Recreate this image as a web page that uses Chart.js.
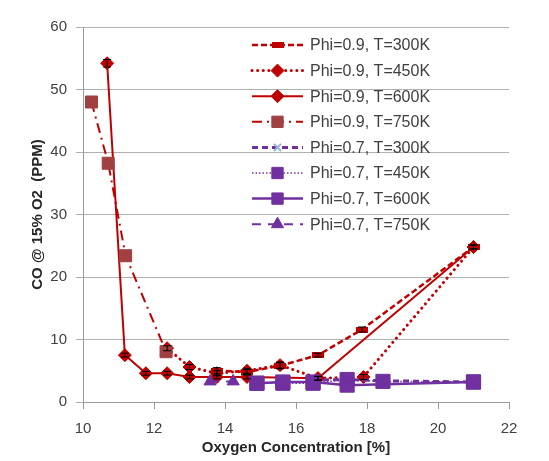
<!DOCTYPE html>
<html>
<head>
<meta charset="utf-8">
<script src="https://cdn.jsdelivr.net/npm/chart.js@4.4.1/dist/chart.umd.min.js"></script>
<style>
  html, body { margin: 0; padding: 0; background: #ffffff; }
  #wrap { width: 549px; height: 461px; position: relative; }
</style>
</head>
<body>
<div id="wrap"><canvas id="c" width="549" height="461"></canvas></div>
<script>
// ---------------- DATA ----------------
const seriesLabels = [
  "Phi=0.9, T=300K", "Phi=0.9, T=450K", "Phi=0.9, T=600K", "Phi=0.9, T=750K",
  "Phi=0.7, T=300K", "Phi=0.7, T=450K", "Phi=0.7, T=600K", "Phi=0.7, T=750K"
];

const phi09_T300_x = [13.77, 14.62, 15.55, 16.62, 17.86, 21.0];
const phi09_T300_y = [5.0, 4.8, 5.8, 7.5, 11.6, 24.8];
const phi09_T300_err = [0.5, 0.4, 0.5, 0.3, 0.4, 0.3];

const phi09_T450_x = [12.37, 13.0, 13.77, 14.62, 15.55, 16.62, 17.9, 21.0];
const phi09_T450_y = [8.6, 5.6, 4.6, 5.0, 5.9, 3.8, 4.0, 24.8];
const phi09_T450_err = [0.4, 0.4, 0.4, 0.4, 0.5, 0.3, 0.4, 0.3];

const phi09_T600_x = [10.68, 11.18, 11.77, 12.37, 13.0, 13.77, 14.62, 16.62, 21.0];
const phi09_T600_y = [54.2, 7.5, 4.6, 4.6, 4.0, 4.0, 4.0, 3.8, 24.8];
const phi09_T600_err = [0.6, 0.3, 0.3, 0.3, 0.3, 0.3, 0.3, 0.3, 0.3];

const phi09_T750_x = [10.24, 10.71, 11.2, 12.34];
const phi09_T750_y = [48.0, 38.2, 23.4, 8.05];

const phi07_T300_x = [16.48, 17.44, 18.45, 21.0];
const phi07_T300_y = [3.5, 3.6, 3.4, 3.2];

const phi07_T450_x = [14.9, 15.63, 16.48, 17.44, 18.45, 21.0];
const phi07_T450_y = [3.0, 3.0, 3.0, 3.6, 3.3, 3.2];

const phi07_T600_x = [14.9, 15.63, 16.48, 17.44, 21.0];
const phi07_T600_y = [3.0, 3.2, 3.2, 2.7, 3.2];

const phi07_T750_x = [13.58, 14.23];
const phi07_T750_y = [3.3, 3.3];

const xTickMin = 10, xTickMax = 22, xTickStep = 2;
const yTickMin = 0, yTickMax = 60, yTickStep = 10;

const xTitle = "Oxygen Concentration [%]";
const yTitle = "CO @ 15% O2  (PPM)";

// ---------------- STYLE ----------------
const RED = "#C00000";
const BROWN = "#A04040";
const PURPLE = "#7030A0";
const LIGHTBLUE = "#95B3D7";

function zip(xs, ys) { return xs.map((x, i) => ({ x: x, y: ys[i] })); }

// small flat rectangle marker for the T=300K, Phi=0.9 series
const flatMarker = document.createElement("canvas");
flatMarker.width = 12; flatMarker.height = 6;
(function () {
  const g = flatMarker.getContext("2d");
  g.fillStyle = RED;
  g.fillRect(0, 0, 12, 6);
})();

const datasets = [
  { label: seriesLabels[0], data: zip(phi09_T300_x, phi09_T300_y), errors: phi09_T300_err,
    borderColor: RED, backgroundColor: RED, borderWidth: 2.5, borderDash: [6, 3],
    pointStyle: flatMarker, pointRadius: 6, order: 7 },
  { label: seriesLabels[1], data: zip(phi09_T450_x, phi09_T450_y), errors: phi09_T450_err,
    borderColor: RED, backgroundColor: RED, borderWidth: 3, borderDash: [0.1, 5.5], borderCapStyle: "round",
    pointStyle: "rectRot", pointRadius: 6.5, order: 6 },
  { label: seriesLabels[2], data: zip(phi09_T600_x, phi09_T600_y), errors: phi09_T600_err,
    borderColor: RED, backgroundColor: RED, borderWidth: 2, borderDash: [],
    pointStyle: "rectRot", pointRadius: 6.5, order: 5 },
  { label: seriesLabels[3], data: zip(phi09_T750_x, phi09_T750_y),
    borderColor: RED, backgroundColor: BROWN, pointBorderColor: BROWN, borderWidth: 2, borderDash: [10, 5, 2, 5],
    pointStyle: "rect", pointRadius: 8.5, order: 4 },
  { label: seriesLabels[4], data: zip(phi07_T300_x, phi07_T300_y),
    borderColor: PURPLE, backgroundColor: LIGHTBLUE, pointBorderColor: LIGHTBLUE, borderWidth: 3, borderDash: [6, 4],
    pointStyle: "crossRot", pointRadius: 5, pointBorderWidth: 2, order: 3 },
  { label: seriesLabels[5], data: zip(phi07_T450_x, phi07_T450_y),
    borderColor: PURPLE, backgroundColor: PURPLE, borderWidth: 1.5, borderDash: [1.5, 2],
    pointStyle: "rect", pointRadius: 10, order: 2 },
  { label: seriesLabels[6], data: zip(phi07_T600_x, phi07_T600_y),
    borderColor: PURPLE, backgroundColor: PURPLE, borderWidth: 2.5, borderDash: [],
    pointStyle: "rect", pointRadius: 10, order: 1 },
  { label: seriesLabels[7], data: zip(phi07_T750_x, phi07_T750_y),
    borderColor: PURPLE, backgroundColor: PURPLE, borderWidth: 2, borderDash: [9, 7],
    pointStyle: "triangle", pointRadius: 7, order: 0 }
];
datasets.forEach(d => {
  d.showLine = true;
  d.fill = false;
  d.tension = 0;
  if (!d.pointBorderColor) d.pointBorderColor = d.backgroundColor;
  d.pointBackgroundColor = d.backgroundColor;
  if (d.pointBorderWidth === undefined) d.pointBorderWidth = 1;
});

// ---------------- PLUGINS ----------------
const errorBarPlugin = {
  id: "errorBars",
  afterDatasetsDraw(chart) {
    const ctx = chart.ctx;
    const ys = chart.scales.y;
    chart.data.datasets.forEach((ds, di) => {
      if (!ds.errors) return;
      const meta = chart.getDatasetMeta(di);
      ctx.save();
      ctx.strokeStyle = "#000000";
      ctx.lineWidth = 1;
      meta.data.forEach((pt, i) => {
        const e = ds.errors[i];
        if (!e) return;
        const v = ds.data[i].y;
        const yTop = ys.getPixelForValue(v + e);
        const yBot = ys.getPixelForValue(v - e);
        const x = pt.x;
        ctx.beginPath();
        ctx.moveTo(x, yTop); ctx.lineTo(x, yBot);
        ctx.moveTo(x - 4, yTop); ctx.lineTo(x + 4, yTop);
        ctx.moveTo(x - 4, yBot); ctx.lineTo(x + 4, yBot);
        ctx.stroke();
      });
      ctx.restore();
    });
  }
};

const legendPlugin = {
  id: "customLegend",
  afterDraw(chart) {
    const ctx = chart.ctx;
    const area = chart.chartArea;
    const x0 = area.left + 169;   // line sample start
    const x1 = x0 + 51;           // line sample end
    const xm = (x0 + x1) / 2;
    const tx = x1 + 7;
    const y0 = area.top + 18;
    const dy = 25.6;
    ctx.save();
    chart.data.datasets.forEach((ds, i) => {
      const y = y0 + i * dy;
      ctx.save();
      ctx.strokeStyle = ds.borderColor;
      ctx.lineWidth = ds.borderWidth;
      ctx.lineCap = ds.borderCapStyle || "butt";
      ctx.setLineDash(ds.borderDash || []);
      ctx.beginPath();
      ctx.moveTo(x0, y); ctx.lineTo(x1, y);
      ctx.stroke();
      ctx.restore();
      ctx.save();
      ctx.fillStyle = ds.pointBackgroundColor;
      ctx.strokeStyle = ds.pointBorderColor;
      ctx.lineWidth = ds.pointBorderWidth;
      const r = Math.min(ds.pointRadius, 8);
      Chart.helpers.drawPoint(ctx, { pointStyle: ds.pointStyle, radius: r, rotation: 0, borderWidth: ds.pointBorderWidth }, xm, y);
      ctx.restore();
      ctx.fillStyle = "#404040";
      ctx.font = "16px 'Liberation Sans', Arial, sans-serif";
      ctx.textBaseline = "middle";
      ctx.textAlign = "left";
      ctx.fillText(ds.label, tx, y + 1);
    });
    ctx.restore();
  }
};

// ---------------- CHART ----------------
const tickFont = { family: "'Liberation Sans', Arial, sans-serif", size: 15 };
const titleFont = { family: "'Liberation Sans', Arial, sans-serif", size: 15, weight: "bold" };

new Chart(document.getElementById("c"), {
  type: "scatter",
  data: { datasets: datasets },
  options: {
    responsive: false,
    animation: false,
    devicePixelRatio: 1,
    layout: { padding: { top: 27, right: 40, left: 0, bottom: 0 } },
    plugins: {
      legend: { display: false },
      tooltip: { enabled: false }
    },
    scales: {
      x: {
        type: "linear",
        min: xTickMin, max: xTickMax,
        ticks: { stepSize: xTickStep, color: "#404040", font: tickFont, padding: 11 },
        grid: { display: true, drawOnChartArea: false, drawTicks: true, tickLength: 7, color: "#9a9a9a" },
        border: { display: true, color: "#9a9a9a", width: 1 },
        title: { display: true, text: xTitle, color: "#262626", font: titleFont, padding: { top: 0, bottom: 4 } },
        afterFit(scale) { scale.height = 59; }
      },
      y: {
        type: "linear",
        min: yTickMin, max: yTickMax,
        ticks: { stepSize: yTickStep, color: "#404040", font: tickFont, padding: 9 },
        grid: { display: true, drawOnChartArea: true, drawTicks: true, tickLength: 7, color: "#b0b0b0" },
        border: { display: true, color: "#9a9a9a", width: 1 },
        title: { display: true, text: yTitle, color: "#262626", font: titleFont, padding: { top: 29, bottom: 0 } },
        afterFit(scale) { scale.width = 83; }
      }
    }
  },
  plugins: [errorBarPlugin, legendPlugin]
});
</script>
</body>
</html>
